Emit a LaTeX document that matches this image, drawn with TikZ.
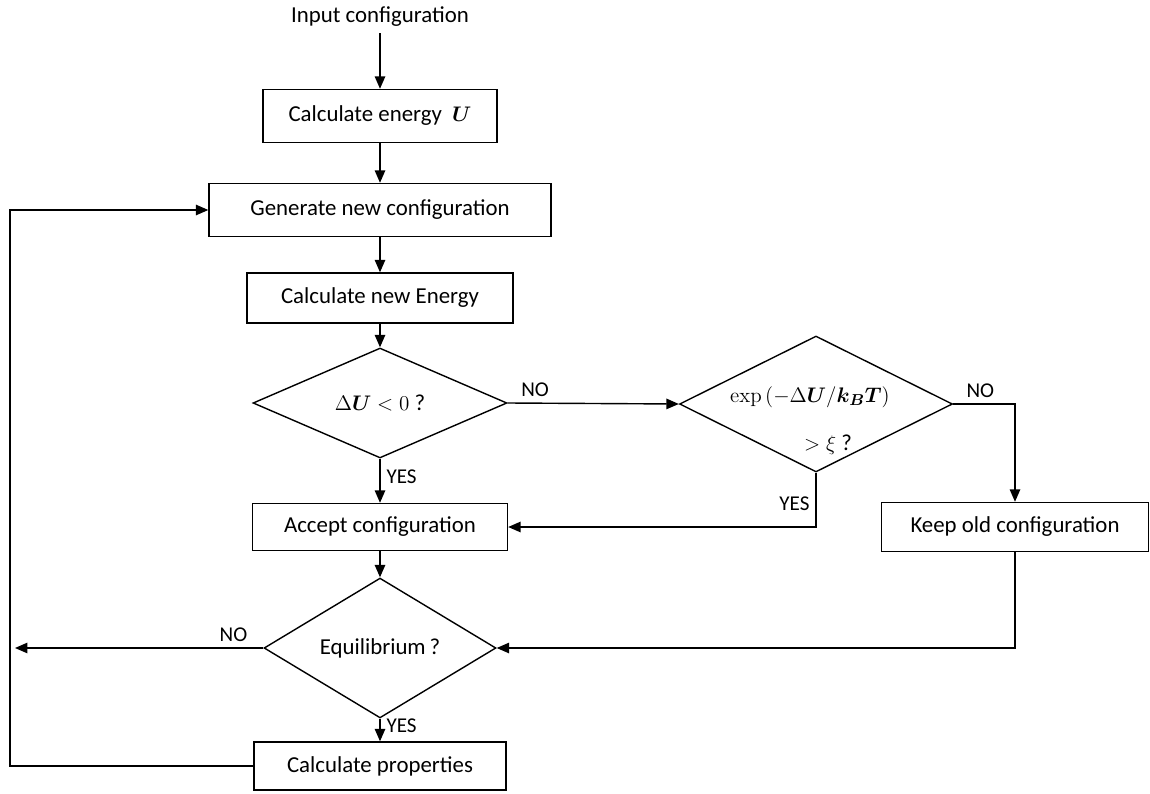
\documentclass[tikz,border=0pt]{standalone}
\usepackage{amsmath,amssymb}
\usepackage[no-math]{fontspec}
\setmainfont{Carlito}
\usepackage{tikz}
\usetikzlibrary{shapes.geometric,arrows.meta}

\begin{document}
\begin{tikzpicture}[x=0.02cm, y=-0.02cm, line width=0.8pt, >={Triangle[length=2.5mm,width=2.1mm]},
	every node/.style={font=\fontsize{13}{15}\selectfont},
	stepbox/.style={rectangle, draw},
	decision/.style={diamond, draw, inner sep=0pt},
	answer/.style={font=\fontsize{12}{14}\selectfont}]
	\useasboundingbox (0,0) rectangle (1150,794);
	\node at (380,17) (input) {Input configuration};
	\node[stepbox, minimum width=4.68cm, minimum height=1.06cm] at (380,116) (energy) {Calculate energy \ $\boldsymbol{U}$};
	\node[stepbox, minimum width=6.84cm, minimum height=1.06cm] at (380,210) (generate) {Generate new configuration};
	\node[stepbox, minimum width=5.32cm, minimum height=1cm] at (380,298) (newenergy) {Calculate new Energy};
	\node[decision, minimum width=5.08cm, minimum height=2.2cm] at (380,403) (dU) {$\Delta\boldsymbol{U} < 0$ ?};
	\node[decision, minimum width=5.46cm, minimum height=2.72cm] at (816,404) (expq) {};
	\node at (810,397) (exptop) {$\exp\,(-\Delta\boldsymbol{U}/\boldsymbol{k_B T})$};
	\node at (828,445) (expbot) {$>\xi$ ?};
	\node[stepbox, minimum width=5.1cm, minimum height=0.94cm] at (380,527) (accept) {Accept configuration};
	\node[stepbox, minimum width=5.34cm, minimum height=0.98cm] at (1015,527) (keep) {Keep old configuration};
	\node[decision, minimum width=4.64cm, minimum height=1.98cm] at (380,648) (equil) {Equilibrium\,?};
	\node[stepbox, minimum width=5.04cm, minimum height=0.96cm] at (380,766) (props) {Calculate properties};
	\coordinate (noend) at (15,648);
	\coordinate (back) at (10,400);

	\draw[->] (input) -- (energy);
	\draw[->] (energy) -- (generate);
	\draw[->] (generate) -- (newenergy);
	\draw[->] (newenergy) -- (dU);
	\draw[->] (dU.east) -- node[answer, above, pos=0.16]{NO} (expq.west);
	\draw[->] (dU.south) -- node[answer, right, pos=0.4]{YES} (accept.north);
	\draw[->] (expq.east) -| node[answer, above, pos=0.22]{NO} (keep.north);
	\draw[->] (expq.south) |- node[answer, left, pos=0.29]{YES} (accept.east);
	\draw[->] (accept) -- (equil);
	\draw[->] (keep.south) |- (equil.east);
	\draw[->] (equil.west) -- node[answer, above, pos=0.12]{NO} (noend);
	\draw[->] (equil.south) -- node[answer, right, pos=0.33]{YES} (props.north);
	\draw[->] (props.west) -| (back) |- (generate.west);
\end{tikzpicture}
\end{document}
